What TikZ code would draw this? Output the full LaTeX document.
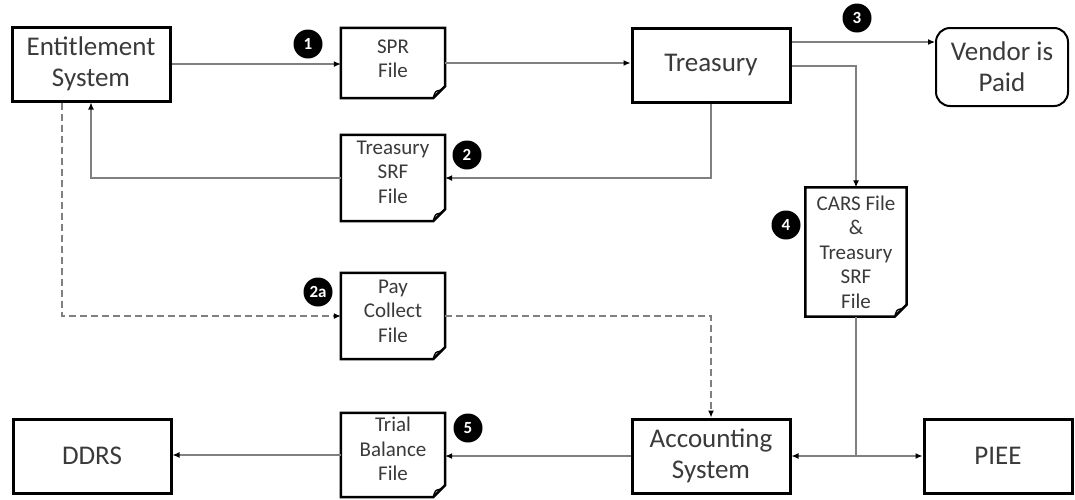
\documentclass[tikz,border=0pt]{standalone}
\usepackage{fontspec}
\setmainfont{Carlito}
\usetikzlibrary{arrows.meta,positioning}
\definecolor{txt}{HTML}{3A3A3A}
\definecolor{ln}{HTML}{808080}
\tikzset{
  bigbox/.style={draw=black, line width=3pt, minimum width=#1, minimum height=74pt, inner sep=0pt, align=center, font=\fontsize{27}{31}\selectfont, text=txt},
  bigbox/.default=158pt,
  filebox/.style={draw=none, inner sep=0pt},
  filetext/.style={align=center, font=\fontsize{21}{24.5}\selectfont, text=txt, inner sep=0pt},
  fileline/.style={draw=black, line width=2.5pt, line join=miter},
  foldline/.style={draw=black, line width=1.4pt},
  endbox/.style={draw=black, line width=2pt, rounded corners=14pt, minimum width=132pt, minimum height=78pt, inner sep=0pt, align=center, font=\fontsize{27}{31}\selectfont, text=txt},
  badge/.style={circle, fill=black, text=white, inner sep=0pt, minimum size=29pt, font=\fontsize{17}{17}\selectfont\bfseries},
  conn/.style={draw=ln, line width=1.2pt, -{Latex[length=7pt,width=6pt,color=black]}},
  connd/.style={conn, dashed, dash pattern=on 7pt off 4pt},
  plain/.style={draw=ln, line width=1.2pt}
}
\newcommand{\fileoutline}[1]{%
  \draw[fileline] (#1.north west) -- (#1.north east) -- ([yshift=12pt]#1.south east) -- ([xshift=-12pt]#1.south east) -- (#1.south west) -- cycle;
  \draw[foldline] ([xshift=-12pt]#1.south east) .. controls ([xshift=-10pt,yshift=7pt]#1.south east) .. ([xshift=-5pt,yshift=8pt]#1.south east) -- ([yshift=12pt]#1.south east);
}
\begin{document}
\begin{tikzpicture}[x=1pt,y=-1pt]
\useasboundingbox (0,0) rectangle (1075,499);
\fill[white] (0,0) rectangle (1075,499);

% main boxes
\node[bigbox] (ent) at (91,64) {Entitlement\\System};
\node[bigbox] (tre) at (711,65) {Treasury};
\node[endbox] (ven) at (1002,67) {Vendor is\\Paid};
\node[bigbox] (acc) at (711,456) {Accounting\\System};
\node[bigbox] (ddrs) at (92,456) {DDRS};
\node[bigbox=148pt] (piee) at (998,456) {PIEE};

% file boxes
\node[filebox, minimum width=104pt, minimum height=70pt,
  label={[filetext, yshift=4pt]center:{SPR\\File}}] (spr) at (393,63) {};
\node[filebox, minimum width=104pt, minimum height=86pt,
  label={[filetext, yshift=6pt]center:{Treasury\\SRF\\File}}] (srf) at (393,178) {};
\node[filebox, minimum width=104pt, minimum height=86pt,
  label={[filetext, yshift=5pt]center:{Pay\\Collect\\File}}] (pay) at (393,316) {};
\node[filebox, minimum width=101pt, minimum height=129pt,
  label={[filetext]center:{CARS File\\\&\\Treasury\\SRF\\File}}] (cars) at (856,252) {};
\node[filebox, minimum width=104pt, minimum height=84pt,
  label={[filetext, yshift=6pt]center:{Trial\\Balance\\File}}] (tb) at (393,455) {};
\fileoutline{spr}
\fileoutline{srf}
\fileoutline{pay}
\fileoutline{cars}
\fileoutline{tb}

% badges
\node[badge] (b1) at (308,44) {1};
\node[badge] (b2) at (467,155) {2};
\node[badge] (b3) at (857,18) {3};
\node[badge] (b4) at (786,225) {4};
\node[badge] (b2a) at (318,292) {2a};
\node[badge] (b5) at (468,428) {5};

% connectors
\draw[conn] (ent.east) -- (ent.east -| spr.west);
\draw[conn] (spr.east) -- (spr.east -| tre.west);
\coordinate (t3) at ([yshift=23pt]tre.east);
\draw[conn] (t3) -- (t3 -| ven.west);
\coordinate (t4) at ([yshift=-1pt]tre.east);
\draw[conn] (t4) -| (cars.north);
\draw[conn] (tre.south) |- (srf.east);
\draw[conn] (srf.west) -| (ent.south);
\coordinate (e2a) at ([xshift=-29pt]ent.south);
\draw[connd] (e2a) |- (pay.west);
\draw[connd] (pay.east) -| (acc.north);
\coordinate (j) at (cars.south |- acc.east);
\draw[plain] (cars.south) -- (j);
\draw[conn] (j) -- (acc.east);
\draw[conn] (j) -- (piee.west);
\draw[conn] (acc.west) -- (acc.west -| tb.east);
\draw[conn] (tb.west) -- (tb.west -| ddrs.east);
\end{tikzpicture}
\end{document}
